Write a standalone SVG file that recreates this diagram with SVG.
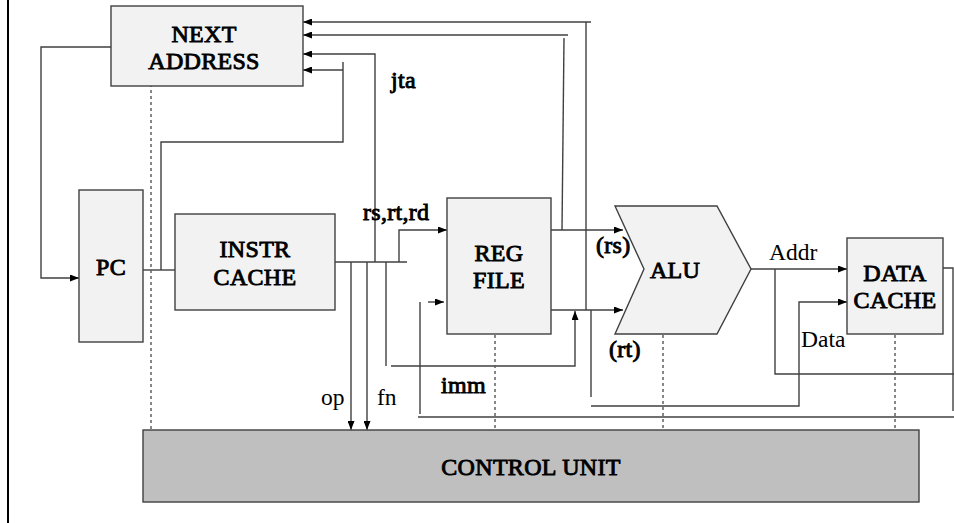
<svg xmlns="http://www.w3.org/2000/svg" width="954" height="523" viewBox="0 0 954 523">
<defs>
<style>
.box{fill:#f2f2f2;stroke:#404040;stroke-width:1.4}
.cu{fill:#bfbfbf;stroke:#404040;stroke-width:1.4}
.ln{fill:none;stroke:#404040;stroke-width:1.4}
.dash{fill:none;stroke:#606060;stroke-width:1.5;stroke-dasharray:3,3}
text{font-family:'Liberation Serif','Times New Roman',Times,serif;font-size:23.5px;fill:#000}
.b{font-size:24px;stroke:#000;stroke-width:0.9px;letter-spacing:0.3px}
.c{text-anchor:middle}
</style>
<marker id="ah" markerUnits="userSpaceOnUse" markerWidth="9" markerHeight="7" refX="9" refY="3.5" orient="auto">
<path d="M0,0 L9,3.5 L0,7 z" fill="#000"/>
</marker>
</defs>
<rect width="954" height="523" fill="#fff"/>
<line x1="8" y1="0" x2="8" y2="523" stroke="#000" stroke-width="2"/>

<g id="connectors">
<path class="ln" d="M111,47 H41 V278 H79" marker-end="url(#ah)"/>
<path class="ln" d="M143,270 H175"/>
<path class="ln" d="M161,270 V142 H343 V62"/>
<path class="ln" d="M343,70 H303" marker-end="url(#ah)"/>
<path class="ln" d="M335,262 H407"/>
<path class="ln" d="M375,262 V54 H303" marker-end="url(#ah)"/>
<path class="ln" d="M399,262 V230 H447" marker-end="url(#ah)"/>
<path class="ln" d="M351,262 V430" marker-end="url(#ah)"/>
<path class="ln" d="M367,262 V430" marker-end="url(#ah)"/>
<path class="ln" d="M386,262 V366"/>
<path class="ln" d="M391,366 H575 V311" marker-end="url(#ah)"/>
<path class="ln" d="M551,230 H623" marker-end="url(#ah)"/>
<path class="ln" d="M551,310 H623" marker-end="url(#ah)"/>
<path class="ln" d="M562,230 L564,38"/>
<path class="ln" d="M568,35 H303" marker-end="url(#ah)"/>
<path class="ln" d="M586,310 V22"/>
<path class="ln" d="M591,22 H303" marker-end="url(#ah)"/>
<path class="ln" d="M591,310 V397"/>
<path class="ln" d="M591,406 H799 V302 H847" marker-end="url(#ah)"/>
<path class="ln" d="M751,269 H847" marker-end="url(#ah)"/>
<path class="ln" d="M775,269 V374 H954"/>
<path class="ln" d="M943,268 H953 V411"/>
<path class="ln" d="M954,417 H418"/>
<path class="ln" d="M420,414 V302"/>
<path class="ln" d="M428,302 H444" marker-end="url(#ah)"/>
<path class="dash" d="M151,78 V430"/>
<path class="dash" d="M495,335 V430"/>
<path class="dash" d="M663,335 V430"/>
<path class="dash" d="M895,335 V430"/>
<text class="b" x="391" y="88">jta</text>
<text class="b" x="363" y="220">rs,rt,rd</text>
<text class="b" x="596" y="253">(rs)</text>
<text class="b" x="609" y="357">(rt)</text>
<text class="b" x="441" y="393">imm</text>
<text x="321" y="405">op</text>
<text x="377" y="405">fn</text>
<text x="769" y="260">Addr</text>
<text x="801" y="347">Data</text>
</g>

<g id="next-address">
<rect class="box" x="111" y="6" width="192" height="80"/>
<text class="b c" x="204" y="42">NEXT</text>
<text class="b c" x="204" y="69">ADDRESS</text>
</g>

<g id="pc">
<rect class="box" x="79" y="190" width="64" height="152"/>
<text class="b c" x="111" y="275">PC</text>
</g>

<g id="instr-cache">
<rect class="box" x="175" y="214" width="160" height="96"/>
<text class="b c" x="255" y="257">INSTR</text>
<text class="b c" x="255" y="285">CACHE</text>
</g>

<g id="reg-file">
<rect class="box" x="447" y="198" width="104" height="136"/>
<text class="b c" x="499" y="261">REG</text>
<text class="b c" x="499" y="288">FILE</text>
</g>

<g id="alu">
<polygon class="box" points="615,206 717,206 751,269 717,334 615,334 644,269"/>
<text class="b c" x="675" y="278">ALU</text>
</g>

<g id="data-cache">
<rect class="box" x="847" y="238" width="96" height="96"/>
<text class="b c" x="895" y="281">DATA</text>
<text class="b c" x="895" y="308">CACHE</text>
</g>

<g id="control-unit">
<rect class="cu" x="143" y="430" width="776" height="72"/>
<text class="b c" x="531" y="475">CONTROL UNIT</text>
</g>
</svg>
